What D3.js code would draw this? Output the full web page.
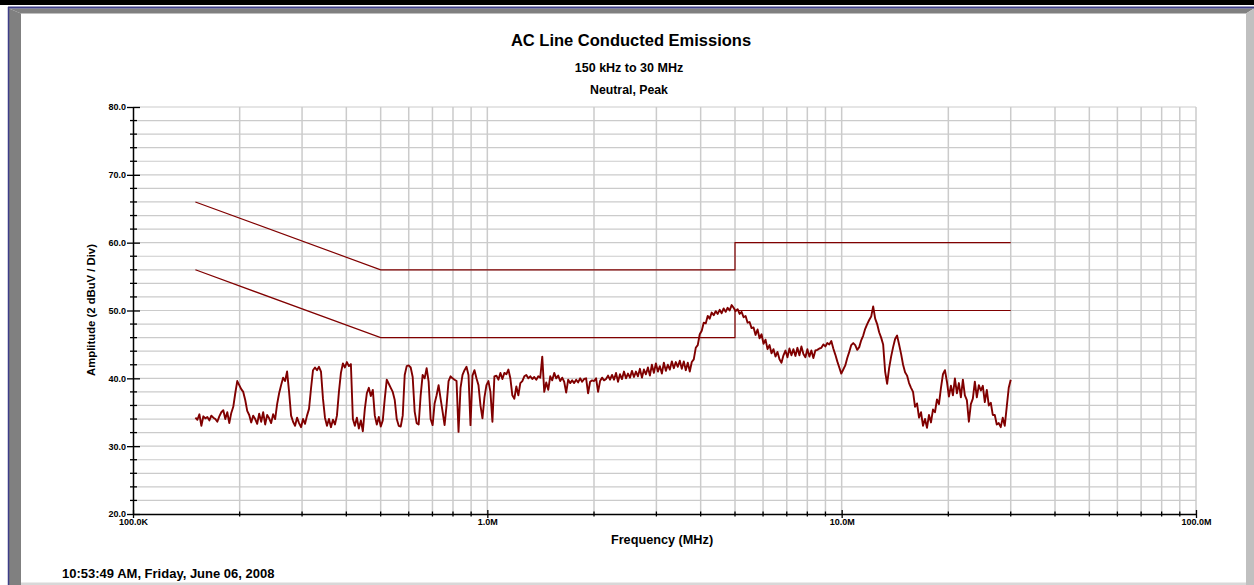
<!DOCTYPE html>
<html>
<head>
<meta charset="utf-8">
<script src="https://cdn.jsdelivr.net/npm/d3@7"></script>
<style>
  body { margin: 0; background: #fff; overflow: hidden; }
  svg text { font-family: "Liberation Sans", Arial, sans-serif; font-weight: bold; fill: #000; }
</style>
</head>
<body>
<svg id="chart"></svg>
<script>
// axis ticks
const xTickValues = [0.1, 1, 10, 100];
const xTickLabels = ["100.0K", "1.0M", "10.0M", "100.0M"];
const yTickValues = [20, 30, 40, 50, 60, 70, 80];

// limit lines (MHz, dBuV)
const limitFreq = [0.15, 0.5, 5, 5, 30];
const quasiPeakLimit = [66, 56, 56, 60, 60];
const averageLimit = [56, 46, 46, 50, 50];

// neutral peak sweep, 150 kHz to 30 MHz, log spaced readings (dBuV)
const sweepStart = 0.15, sweepStop = 30;
const neutralPeak = [
  34.2, 33.9, 34.7, 33.0, 34.4, 34.1, 34.3, 33.8, 34.5, 34.2,
  34.0, 33.6, 34.4, 35.0, 35.3, 34.0, 35.0, 33.4, 34.9, 35.8,
  37.8, 39.6, 39.0, 38.4, 38.0, 36.8, 35.2, 34.6, 33.5, 34.5,
  34.0, 33.3, 34.8, 33.6, 35.0, 33.2, 34.6, 34.1, 33.4, 34.7,
  34.0, 36.2, 37.8, 39.0, 40.1, 39.6, 41.0, 38.0, 34.5, 33.6,
  33.0, 34.2, 33.4, 32.8, 34.0, 33.3, 34.5, 35.5, 38.5, 41.2,
  41.6, 41.2, 41.7, 41.0, 37.0, 34.2, 33.0, 34.0, 32.8, 33.9,
  33.2, 34.5, 38.0, 40.8, 42.2, 41.6, 42.4, 41.8, 42.1, 34.0,
  33.0, 34.2, 32.6, 33.8, 32.2, 35.5, 37.8, 38.6, 37.4, 38.3,
  34.5, 33.2, 34.3, 32.9, 33.8, 37.0, 39.8, 39.2, 38.6, 38.0,
  36.8, 34.0, 33.0, 32.9, 34.5, 40.5, 41.8, 41.9, 41.6, 40.2,
  35.1, 33.4, 33.2, 37.5, 40.5, 40.0, 41.5, 39.5, 34.0, 33.1,
  36.3, 37.5, 39.0, 37.0, 35.1, 33.1, 36.0, 39.6, 40.3, 40.0,
  39.8, 39.6, 32.1, 38.6, 40.5, 41.2, 41.7, 40.5, 33.1, 40.4,
  41.2, 40.0, 39.0, 36.0, 34.1, 37.2, 39.0, 39.6, 38.0, 33.6,
  40.3, 40.4, 39.8, 40.8, 39.9, 40.8, 40.6, 41.3, 40.0, 37.5,
  37.0, 38.8, 37.5, 39.3, 39.6, 40.3, 40.5, 40.0, 40.3, 39.9,
  40.2, 39.8, 40.3, 40.1, 43.2, 38.0, 39.4, 38.3, 40.3, 39.7,
  40.8, 40.0, 40.4, 39.6, 40.1, 39.5, 37.9, 39.8, 39.3, 39.7,
  39.3, 39.8, 39.4, 40.0, 39.5, 39.9, 40.0, 37.8, 39.5, 39.7,
  39.6, 40.0, 38.0, 39.6, 40.1, 39.7, 39.9, 40.4, 39.8, 40.5,
  39.8, 40.8, 39.5, 40.6, 39.9, 41.0, 40.0, 40.7, 40.1, 41.1,
  40.2, 41.0, 40.3, 41.4, 40.1, 41.3, 40.6, 41.6, 40.4, 42.0,
  40.8, 42.2, 41.0, 41.8, 40.7, 42.3, 41.1, 42.0, 41.3, 42.5,
  41.5, 42.4, 41.7, 42.6, 41.4, 42.5, 41.2, 42.3, 41.0, 42.4,
  42.8, 44.5, 44.9, 46.5, 47.0, 48.2, 48.1, 49.2, 48.8, 49.7,
  49.3, 49.9, 49.5, 50.1, 49.6, 50.3, 49.8, 50.4, 50.0, 50.8,
  50.4, 49.9, 50.2, 49.5, 49.8, 49.0, 49.2, 48.2, 48.3, 47.4,
  47.5, 46.4, 47.2, 45.9, 46.5, 45.1, 45.7, 44.3, 44.9, 43.7,
  44.3, 43.2, 43.9, 42.8, 42.3, 43.4, 44.1, 43.1, 44.4, 43.4,
  44.3, 43.3, 44.5, 43.4, 44.7, 43.6, 43.1, 44.3, 43.2, 44.1,
  43.0, 44.1, 44.2, 44.4, 44.5, 45.0, 44.7, 45.2, 45.0, 45.5,
  44.4, 43.5, 42.5, 41.6, 40.7, 41.3, 41.9, 43.0, 43.9, 44.9,
  45.2, 44.9, 44.2, 44.6, 45.6, 46.3, 47.3, 48.0, 48.6, 49.1,
  50.6, 48.8, 48.0, 46.8, 46.0, 45.0, 41.0, 39.2, 41.5, 43.2,
  44.6, 45.8, 46.3, 45.0, 43.6, 42.0, 40.9, 40.4, 39.3, 38.6,
  38.0, 35.8, 36.3, 34.2, 35.0, 33.0, 34.0, 32.7, 34.6, 33.5,
  35.4, 35.0, 36.9, 36.2, 38.6, 40.6, 41.2, 39.5, 37.3, 38.9,
  37.5, 40.0, 37.8, 39.3, 37.2, 39.8, 37.5, 36.8, 33.6, 36.2,
  37.0, 39.5, 37.2, 39.0, 38.2, 38.9, 36.5, 38.3, 36.0, 36.4,
  34.6, 34.6, 33.2, 33.4, 32.8, 34.2, 33.0, 35.8, 38.6, 39.8
];

const width = 1254;
const height = 585;
const plot = { left: 133, right: 1196, top: 107, bottom: 514 };
const traceColor = "#800000";

const svg = d3.select("svg#chart")
  .attr("width", width)
  .attr("height", height);

//window frame
svg.append("rect").attr("x", 0).attr("y", 0).attr("width", width).attr("height", 5).style("fill", "#000");
svg.append("polygon").attr("points", "9,8.5 1254,8.5 1246,13.5 21,13.5").style("fill", "#808080");
svg.append("polygon").attr("points", "9,8.5 21,13.5 21,585 9,585").style("fill", "#808080");
svg.append("polygon").attr("points", "1254,8.5 1254,585 1246,585 1246,13.5").style("fill", "#c0c0c0");
svg.append("rect").attr("x", 21).attr("y", 582.5).attr("width", 1225).attr("height", 2.5).style("fill", "#d8d8d8");
svg.append("line").attr("x1", 8).attr("x2", width).attr("y1", 7.5).attr("y2", 7.5)
  .style("stroke", "#3e3e88").style("stroke-width", 2);
svg.append("line").attr("x1", 8.5).attr("x2", 8.5).attr("y1", 7).attr("y2", height)
  .style("stroke", "#3e3e88").style("stroke-width", 1.5);

//scales
const xScale = d3.scaleLog().domain([0.1, 100]).range([plot.left, plot.right]);
const yScale = d3.scaleLinear().domain([20, 80]).range([plot.bottom, plot.top]);

const minorX = [];
[0.1, 1, 10].forEach(dec => { for (let m = 2; m <= 9; m++) minorX.push(dec * m); });
const minorY = d3.range(22, 80, 2).filter(v => v % 10 != 0);

//grid
const grid = svg.append("g").attr("id", "grid");
grid.selectAll("line.hgrid")
  .data(d3.range(22, 81, 2))
  .enter().append("line")
  .attr("class", "hgrid")
  .attr("x1", plot.left).attr("x2", plot.right)
  .attr("y1", d => yScale(d)).attr("y2", d => yScale(d))
  .style("stroke", "#cbcbcb").style("stroke-width", 1.2);
grid.selectAll("line.vgrid")
  .data(minorX.concat([1, 10, 100]))
  .enter().append("line")
  .attr("class", "vgrid")
  .attr("x1", d => xScale(d)).attr("x2", d => xScale(d))
  .attr("y1", plot.top).attr("y2", plot.bottom)
  .style("stroke", "#cbcbcb").style("stroke-width", 1.5);

//limit lines
const line = d3.line()
  .x(d => xScale(d[0]))
  .y(d => yScale(d[1]));

[quasiPeakLimit, averageLimit].forEach(lim => {
  svg.append("path")
    .datum(limitFreq.map((f, i) => [f, lim[i]]))
    .attr("d", line)
    .style("fill", "none")
    .style("stroke", traceColor)
    .style("stroke-width", 1.2);
});

//trace
const n = neutralPeak.length;
const traceData = neutralPeak.map((v, i) => [sweepStart * Math.pow(sweepStop / sweepStart, i / (n - 1)), v]);
svg.append("path")
  .datum(traceData)
  .attr("d", line)
  .style("fill", "none")
  .style("stroke", traceColor)
  .style("stroke-width", 1.9)
  .style("stroke-linejoin", "round");

//y axis
const yAxis = svg.append("g")
  .attr("transform", "translate(" + plot.left + ",0)")
  .call(d3.axisLeft(yScale).tickValues(yTickValues).tickFormat(d3.format(".1f")).tickSize(6).tickSizeOuter(0));
yAxis.select(".domain").style("stroke", "#000").style("stroke-width", 1.5);
yAxis.selectAll(".tick line").attr("x1", 7).style("stroke-width", 1.3);
yAxis.selectAll(".tick text").attr("x", -7).style("font-size", "9px").style("font-family", "'Liberation Sans', Arial, sans-serif");
yAxis.selectAll("line.minor")
  .data(minorY)
  .enter().append("line")
  .attr("class", "minor")
  .attr("x1", -3).attr("x2", 4)
  .attr("y1", d => yScale(d)).attr("y2", d => yScale(d))
  .style("stroke", "#000").style("stroke-width", 1.3);

//x axis
const xAxis = svg.append("g")
  .attr("transform", "translate(0," + plot.bottom + ")")
  .call(d3.axisBottom(xScale).tickValues(xTickValues).tickFormat((d, i) => xTickLabels[i]).tickSize(4).tickSizeOuter(0));
xAxis.select(".domain").style("stroke", "#000").style("stroke-width", 1.5);
xAxis.selectAll(".tick line").attr("y1", -4).style("stroke-width", 1.3);
xAxis.selectAll(".tick text").attr("y", 5).style("font-size", "9px").style("font-family", "'Liberation Sans', Arial, sans-serif");
xAxis.selectAll("line.minor")
  .data(minorX)
  .enter().append("line")
  .attr("class", "minor")
  .attr("x1", d => xScale(d)).attr("x2", d => xScale(d))
  .attr("y1", -2.5).attr("y2", 2.5)
  .style("stroke", "#000").style("stroke-width", 1.3);

//titles
svg.append("text").attr("x", 631).attr("y", 46).attr("text-anchor", "middle")
  .style("font-size", "16.5px").text("AC Line Conducted Emissions");
svg.append("text").attr("x", 629).attr("y", 72).attr("text-anchor", "middle")
  .style("font-size", "12.5px").text("150 kHz to 30 MHz");
svg.append("text").attr("x", 629).attr("y", 94).attr("text-anchor", "middle")
  .style("font-size", "12.3px").text("Neutral, Peak");
svg.append("text").attr("x", 662).attr("y", 544).attr("text-anchor", "middle")
  .style("font-size", "12.7px").text("Frequency (MHz)");
svg.append("text").attr("transform", "translate(95,310) rotate(-90)").attr("text-anchor", "middle")
  .style("font-size", "11.3px").text("Amplitude (2 dBuV / Div)");
svg.append("text").attr("x", 62).attr("y", 578)
  .style("font-size", "13px").text("10:53:49 AM, Friday, June 06, 2008");
</script>
</body>
</html>
